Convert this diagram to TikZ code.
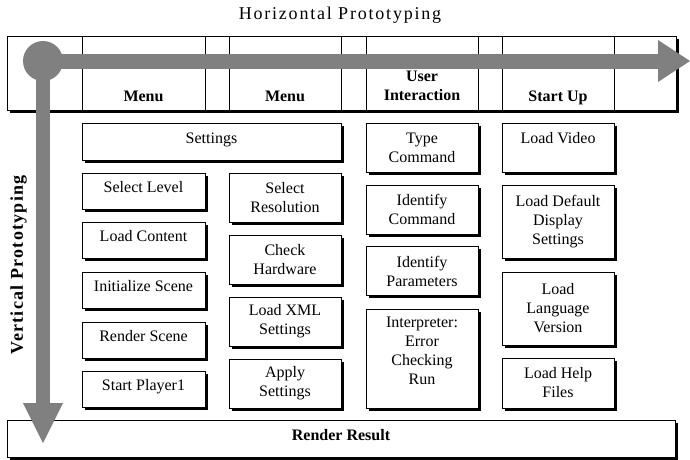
\documentclass[tikz,border=0pt]{standalone}
\usepackage{fontspec}
\setmainfont{Liberation Serif}
\usetikzlibrary{shadows,calc}
\definecolor{bargray}{RGB}{128,128,128}
\tikzset{
  box/.style={draw=black, line width=0.8pt, fill=white, align=center,
    font=\fontsize{16}{19}\selectfont, inner sep=2pt,
    drop shadow={shadow xshift=2.5pt, shadow yshift=-2.5pt, fill=black, opacity=1}},
  one/.style={text height=11pt, text depth=8pt},
  head/.style={font=\fontsize{16}{19}\selectfont\bfseries, align=center, inner sep=0pt},
  bar/.style={fill=bargray, draw=none},
  colline/.style={draw=black, line width=0.8pt},
}
\begin{document}
\begin{tikzpicture}[x=1pt,y=-1pt]
\useasboundingbox (0,0) rectangle (690,459);
% titles
\node (title) at (340,15) {\fontsize{18}{20}\selectfont\addfontfeatures{LetterSpace=10}Horizontal Prototyping};
\node[rotate=90] (vlabel) at (18.5,265) {\fontsize{18}{20}\selectfont\bfseries\addfontfeatures{LetterSpace=7}Vertical Prototyping};
% top table
\node[box, minimum width=669pt, minimum height=74pt] (table) at (341.5,73) {};
\foreach \x in {82,205,229,341,366,478,502,614}
  \draw[colline] (\x,36) -- (\x,110);
\node[head, anchor=base] (h1) at (143.5,101.5) {Menu};
\node[head, anchor=base] (h2) at (285,101.5) {Menu};
\node[head] (h3) at (422,86) {User\\Interaction};
\node[head, anchor=base] (h4) at (558,101.5) {Start Up};
% column A
\node[box, one, minimum width=259pt, minimum height=37pt] (settings) at (211.5,141.5) {Settings};
\node[box, one, minimum width=123pt, minimum height=36pt] (a1) at (143.5,191) {Select Level};
\node[box, one, minimum width=123pt, minimum height=36pt] (a2) at (143.5,240) {Load Content};
\node[box, one, minimum width=123pt, minimum height=36pt] (a3) at (143.5,290) {Initialize Scene};
\node[box, one, minimum width=123pt, minimum height=36pt] (a4) at (143.5,340) {Render Scene};
\node[box, one, minimum width=123pt, minimum height=36pt] (a5) at (143.5,389) {Start Player1};
% column B
\node[box, minimum width=112pt, minimum height=49pt] (b1) at (285,197.5) {Select\\Resolution};
\node[box, minimum width=112pt, minimum height=49pt] (b2) at (285,259.5) {Check\\Hardware};
\node[box, minimum width=112pt, minimum height=49pt] (b3) at (285,321.5) {Load XML\\Settings};
\node[box, minimum width=112pt, minimum height=49pt] (b4) at (285,383.5) {Apply\\Settings};
% column C
\node[box, minimum width=112pt, minimum height=49pt] (c1) at (422,147.5) {Type\\Command};
\node[box, minimum width=112pt, minimum height=49pt] (c2) at (422,209.5) {Identify\\Command};
\node[box, minimum width=112pt, minimum height=49pt] (c3) at (422,271) {Identify\\Parameters};
\node[box, minimum width=112pt, minimum height=99pt] (c4) at (422,358.5) {Interpreter:\\Error\\Checking\\Run\\[-4pt]\mbox{}};
% column D
\node[box, minimum width=112pt, minimum height=49pt] (d1) at (558,147.5) {Load Video\\\mbox{}};
\node[box, minimum width=112pt, minimum height=73pt] (d2) at (558,221.5) {Load Default\\Display\\Settings};
\node[box, minimum width=112pt, minimum height=73pt] (d3) at (558,308.5) {Load\\Language\\Version};
\node[box, minimum width=112pt, minimum height=50pt] (d4) at (558,383) {Load Help\\Files};
% bottom
\node[box, one, minimum width=668pt, minimum height=37pt, font=\fontsize{16}{19}\selectfont\bfseries] (result) at (341,438.5) {Render Result};
% arrows
\coordinate (origin) at (43,61);
\coordinate (hend) at (690,61);
\coordinate (vend) at (43,443);
\fill[bar] (origin) circle (20pt);
\fill[bar] ($(origin)+(0,-7.5)$) rectangle ($(hend)+(-31,7.5)$);
\fill[bar] ($(hend)+(-32,-21)$) -- (hend) -- ($(hend)+(-32,21)$) -- cycle;
\fill[bar] ($(origin)+(-7,0)$) rectangle ($(vend)+(7,-39)$);
\fill[bar] ($(vend)+(-20,-40)$) -- (vend) -- ($(vend)+(20,-40)$) -- cycle;
\end{tikzpicture}
\end{document}
